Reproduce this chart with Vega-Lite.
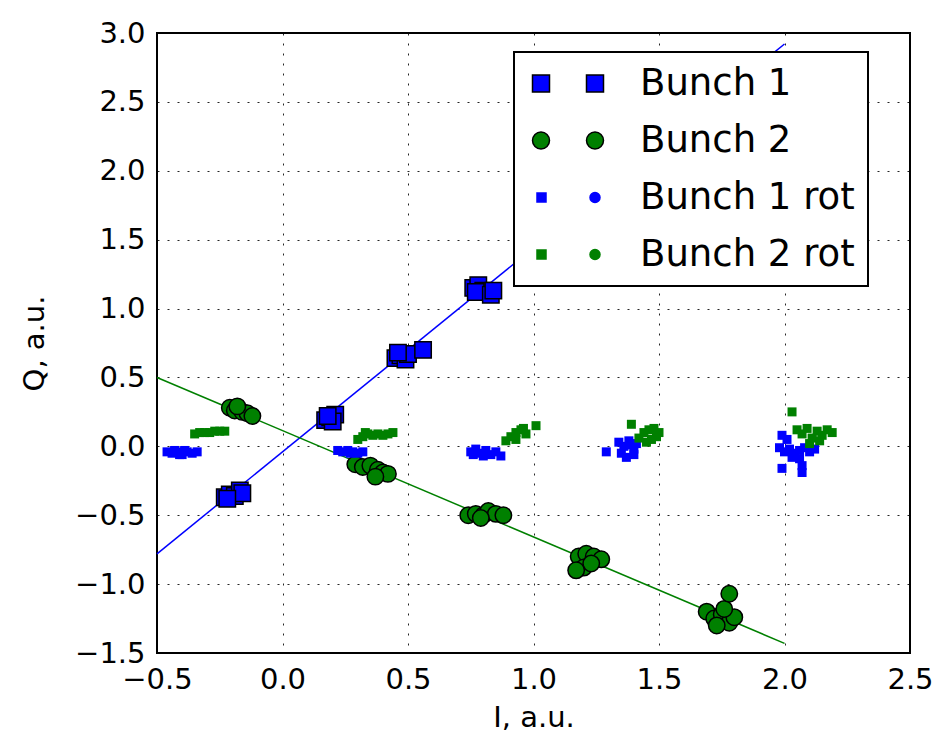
{
  "$schema": "https://vega.github.io/schema/vega-lite/v6.json",
  "width": 753,
  "height": 620,
  "autosize": {"type": "none"},
  "padding": {"left": 157, "top": 33, "right": 24, "bottom": 91},
  "background": "white",
  "config": {
    "font": "DejaVu Sans",
    "view": {"stroke": "black", "strokeWidth": 2},
    "axis": {
      "domain": false,
      "ticks": false,
      "grid": true,
      "gridColor": "black",
      "gridDash": [2, 8],
      "gridWidth": 1,
      "gridOpacity": 0.85,
      "labelFont": "DejaVu Sans",
      "labelFontSize": 29,
      "labelColor": "black",
      "labelPadding": 12,
      "labelFlush": false,
      "titleFont": "DejaVu Sans",
      "titleFontSize": 29,
      "titleFontWeight": "normal",
      "titleColor": "black"
    }
  },
  "datasets": {
    "points": [
      {"series": "Bunch 1", "I": -0.23, "Q": -0.37},
      {"series": "Bunch 1", "I": -0.21, "Q": -0.35},
      {"series": "Bunch 1", "I": -0.19, "Q": -0.36},
      {"series": "Bunch 1", "I": -0.17, "Q": -0.32},
      {"series": "Bunch 1", "I": -0.16, "Q": -0.34},
      {"series": "Bunch 1", "I": -0.22, "Q": -0.38},
      {"series": "Bunch 1", "I": 0.17, "Q": 0.19},
      {"series": "Bunch 1", "I": 0.19, "Q": 0.21},
      {"series": "Bunch 1", "I": 0.21, "Q": 0.23},
      {"series": "Bunch 1", "I": 0.2, "Q": 0.18},
      {"series": "Bunch 1", "I": 0.18, "Q": 0.22},
      {"series": "Bunch 1", "I": 0.45, "Q": 0.64},
      {"series": "Bunch 1", "I": 0.47, "Q": 0.66},
      {"series": "Bunch 1", "I": 0.49, "Q": 0.63},
      {"series": "Bunch 1", "I": 0.5, "Q": 0.67},
      {"series": "Bunch 1", "I": 0.46, "Q": 0.68},
      {"series": "Bunch 1", "I": 0.56, "Q": 0.7},
      {"series": "Bunch 1", "I": 0.76, "Q": 1.15},
      {"series": "Bunch 1", "I": 0.78, "Q": 1.17},
      {"series": "Bunch 1", "I": 0.8, "Q": 1.13},
      {"series": "Bunch 1", "I": 0.77, "Q": 1.12},
      {"series": "Bunch 1", "I": 0.83, "Q": 1.1},
      {"series": "Bunch 1", "I": 0.84, "Q": 1.13},
      {"series": "Bunch 2", "I": -0.21, "Q": 0.28},
      {"series": "Bunch 2", "I": -0.19, "Q": 0.26},
      {"series": "Bunch 2", "I": -0.16, "Q": 0.25},
      {"series": "Bunch 2", "I": -0.14, "Q": 0.24},
      {"series": "Bunch 2", "I": -0.12, "Q": 0.22},
      {"series": "Bunch 2", "I": -0.18, "Q": 0.29},
      {"series": "Bunch 2", "I": 0.29, "Q": -0.13},
      {"series": "Bunch 2", "I": 0.32, "Q": -0.15},
      {"series": "Bunch 2", "I": 0.35, "Q": -0.14},
      {"series": "Bunch 2", "I": 0.38, "Q": -0.17},
      {"series": "Bunch 2", "I": 0.4, "Q": -0.19},
      {"series": "Bunch 2", "I": 0.42, "Q": -0.2},
      {"series": "Bunch 2", "I": 0.37, "Q": -0.22},
      {"series": "Bunch 2", "I": 0.74, "Q": -0.5},
      {"series": "Bunch 2", "I": 0.77, "Q": -0.49},
      {"series": "Bunch 2", "I": 0.8, "Q": -0.5},
      {"series": "Bunch 2", "I": 0.82, "Q": -0.47},
      {"series": "Bunch 2", "I": 0.85, "Q": -0.49},
      {"series": "Bunch 2", "I": 0.88, "Q": -0.5},
      {"series": "Bunch 2", "I": 0.79, "Q": -0.52},
      {"series": "Bunch 2", "I": 1.18, "Q": -0.8},
      {"series": "Bunch 2", "I": 1.21, "Q": -0.78},
      {"series": "Bunch 2", "I": 1.24, "Q": -0.8},
      {"series": "Bunch 2", "I": 1.27, "Q": -0.82},
      {"series": "Bunch 2", "I": 1.2, "Q": -0.88},
      {"series": "Bunch 2", "I": 1.23, "Q": -0.85},
      {"series": "Bunch 2", "I": 1.17, "Q": -0.9},
      {"series": "Bunch 2", "I": 1.69, "Q": -1.2},
      {"series": "Bunch 2", "I": 1.72, "Q": -1.25},
      {"series": "Bunch 2", "I": 1.75, "Q": -1.22},
      {"series": "Bunch 2", "I": 1.78, "Q": -1.28},
      {"series": "Bunch 2", "I": 1.8, "Q": -1.24},
      {"series": "Bunch 2", "I": 1.73, "Q": -1.3},
      {"series": "Bunch 2", "I": 1.76, "Q": -1.18},
      {"series": "Bunch 2", "I": 1.78, "Q": -1.07},
      {"series": "Bunch 1 rot", "I": -0.46, "Q": -0.04},
      {"series": "Bunch 1 rot", "I": -0.44, "Q": -0.05},
      {"series": "Bunch 1 rot", "I": -0.42, "Q": -0.04},
      {"series": "Bunch 1 rot", "I": -0.4, "Q": -0.06},
      {"series": "Bunch 1 rot", "I": -0.38, "Q": -0.04},
      {"series": "Bunch 1 rot", "I": -0.36, "Q": -0.05},
      {"series": "Bunch 1 rot", "I": -0.34, "Q": -0.04},
      {"series": "Bunch 1 rot", "I": -0.43, "Q": -0.03},
      {"series": "Bunch 1 rot", "I": -0.39, "Q": -0.03},
      {"series": "Bunch 1 rot", "I": -0.41, "Q": -0.06},
      {"series": "Bunch 1 rot", "I": 0.22, "Q": -0.03},
      {"series": "Bunch 1 rot", "I": 0.24, "Q": -0.04},
      {"series": "Bunch 1 rot", "I": 0.26, "Q": -0.03},
      {"series": "Bunch 1 rot", "I": 0.28, "Q": -0.04},
      {"series": "Bunch 1 rot", "I": 0.3, "Q": -0.05},
      {"series": "Bunch 1 rot", "I": 0.32, "Q": -0.04},
      {"series": "Bunch 1 rot", "I": 0.27, "Q": -0.05},
      {"series": "Bunch 1 rot", "I": 0.75, "Q": -0.04},
      {"series": "Bunch 1 rot", "I": 0.77, "Q": -0.02},
      {"series": "Bunch 1 rot", "I": 0.79, "Q": -0.05},
      {"series": "Bunch 1 rot", "I": 0.81, "Q": -0.03},
      {"series": "Bunch 1 rot", "I": 0.83, "Q": -0.06},
      {"series": "Bunch 1 rot", "I": 0.85, "Q": -0.04},
      {"series": "Bunch 1 rot", "I": 0.87, "Q": -0.07},
      {"series": "Bunch 1 rot", "I": 0.8, "Q": -0.07},
      {"series": "Bunch 1 rot", "I": 0.76, "Q": -0.06},
      {"series": "Bunch 1 rot", "I": 1.29, "Q": -0.04},
      {"series": "Bunch 1 rot", "I": 1.34, "Q": 0.03},
      {"series": "Bunch 1 rot", "I": 1.36, "Q": 0.0},
      {"series": "Bunch 1 rot", "I": 1.38, "Q": 0.04},
      {"series": "Bunch 1 rot", "I": 1.4, "Q": -0.02},
      {"series": "Bunch 1 rot", "I": 1.35, "Q": -0.05},
      {"series": "Bunch 1 rot", "I": 1.37, "Q": -0.08},
      {"series": "Bunch 1 rot", "I": 1.4, "Q": -0.06},
      {"series": "Bunch 1 rot", "I": 1.39, "Q": 0.01},
      {"series": "Bunch 1 rot", "I": 1.41, "Q": 0.02},
      {"series": "Bunch 1 rot", "I": 1.98, "Q": -0.01},
      {"series": "Bunch 1 rot", "I": 2.0, "Q": -0.04},
      {"series": "Bunch 1 rot", "I": 2.02, "Q": -0.02},
      {"series": "Bunch 1 rot", "I": 2.04, "Q": -0.05},
      {"series": "Bunch 1 rot", "I": 2.06, "Q": -0.03},
      {"series": "Bunch 1 rot", "I": 2.08, "Q": -0.01},
      {"series": "Bunch 1 rot", "I": 2.1, "Q": -0.04},
      {"series": "Bunch 1 rot", "I": 2.12, "Q": -0.02},
      {"series": "Bunch 1 rot", "I": 2.03, "Q": -0.08},
      {"series": "Bunch 1 rot", "I": 2.06, "Q": -0.09},
      {"series": "Bunch 1 rot", "I": 2.07, "Q": -0.14},
      {"series": "Bunch 1 rot", "I": 2.07, "Q": -0.19},
      {"series": "Bunch 1 rot", "I": 1.99, "Q": -0.16},
      {"series": "Bunch 1 rot", "I": 1.99, "Q": 0.08},
      {"series": "Bunch 1 rot", "I": 2.01, "Q": 0.05},
      {"series": "Bunch 2 rot", "I": -0.35, "Q": 0.09},
      {"series": "Bunch 2 rot", "I": -0.33, "Q": 0.1},
      {"series": "Bunch 2 rot", "I": -0.31, "Q": 0.1},
      {"series": "Bunch 2 rot", "I": -0.29, "Q": 0.1},
      {"series": "Bunch 2 rot", "I": -0.27, "Q": 0.11},
      {"series": "Bunch 2 rot", "I": -0.25, "Q": 0.11},
      {"series": "Bunch 2 rot", "I": -0.23, "Q": 0.11},
      {"series": "Bunch 2 rot", "I": 0.3, "Q": 0.05},
      {"series": "Bunch 2 rot", "I": 0.32, "Q": 0.07},
      {"series": "Bunch 2 rot", "I": 0.34, "Q": 0.09},
      {"series": "Bunch 2 rot", "I": 0.36, "Q": 0.08},
      {"series": "Bunch 2 rot", "I": 0.38, "Q": 0.09},
      {"series": "Bunch 2 rot", "I": 0.4, "Q": 0.08},
      {"series": "Bunch 2 rot", "I": 0.42, "Q": 0.09},
      {"series": "Bunch 2 rot", "I": 0.44, "Q": 0.1},
      {"series": "Bunch 2 rot", "I": 0.33, "Q": 0.1},
      {"series": "Bunch 2 rot", "I": 0.89, "Q": 0.04},
      {"series": "Bunch 2 rot", "I": 0.91, "Q": 0.07},
      {"series": "Bunch 2 rot", "I": 0.93, "Q": 0.1},
      {"series": "Bunch 2 rot", "I": 0.95, "Q": 0.12},
      {"series": "Bunch 2 rot", "I": 0.97, "Q": 0.09},
      {"series": "Bunch 2 rot", "I": 0.93, "Q": 0.05},
      {"series": "Bunch 2 rot", "I": 0.96, "Q": 0.13},
      {"series": "Bunch 2 rot", "I": 1.01, "Q": 0.15},
      {"series": "Bunch 2 rot", "I": 1.39, "Q": 0.16},
      {"series": "Bunch 2 rot", "I": 1.42, "Q": 0.06},
      {"series": "Bunch 2 rot", "I": 1.44, "Q": 0.1},
      {"series": "Bunch 2 rot", "I": 1.46, "Q": 0.12},
      {"series": "Bunch 2 rot", "I": 1.48, "Q": 0.13},
      {"series": "Bunch 2 rot", "I": 1.5, "Q": 0.1},
      {"series": "Bunch 2 rot", "I": 1.47, "Q": 0.05},
      {"series": "Bunch 2 rot", "I": 1.45, "Q": 0.03},
      {"series": "Bunch 2 rot", "I": 1.49, "Q": 0.07},
      {"series": "Bunch 2 rot", "I": 2.03, "Q": 0.25},
      {"series": "Bunch 2 rot", "I": 2.05, "Q": 0.12},
      {"series": "Bunch 2 rot", "I": 2.07, "Q": 0.09},
      {"series": "Bunch 2 rot", "I": 2.09, "Q": 0.13},
      {"series": "Bunch 2 rot", "I": 2.11, "Q": 0.06},
      {"series": "Bunch 2 rot", "I": 2.13, "Q": 0.11},
      {"series": "Bunch 2 rot", "I": 2.15, "Q": 0.08},
      {"series": "Bunch 2 rot", "I": 2.17, "Q": 0.12},
      {"series": "Bunch 2 rot", "I": 2.19, "Q": 0.1},
      {"series": "Bunch 2 rot", "I": 2.1, "Q": 0.02},
      {"series": "Bunch 2 rot", "I": 2.14, "Q": 0.04}
    ],
    "blueLine": [{"I": -0.5, "Q": -0.78}, {"I": 2.0, "Q": 2.92}],
    "greenLine": [{"I": -0.5, "Q": 0.5}, {"I": 2.0, "Q": -1.43}]
  },
  "encoding": {
    "x": {
      "field": "I", "type": "quantitative",
      "scale": {"domain": [-0.5, 2.5], "nice": false, "zero": false},
      "axis": {"title": "I, a.u.", "values": [-0.5, 0, 0.5, 1, 1.5, 2, 2.5], "format": ".1f", "labelBaseline": "top", "titlePadding": 9}
    },
    "y": {
      "field": "Q", "type": "quantitative",
      "scale": {"domain": [-1.5, 3.0], "nice": false, "zero": false},
      "axis": {"title": "Q, a.u.", "values": [-1.5, -1, -0.5, 0, 0.5, 1, 1.5, 2, 2.5, 3], "format": ".1f", "titlePadding": 25}
    }
  },
  "layer": [
    {
      "data": {"name": "blueLine"},
      "mark": {"type": "line", "color": "#0000ff", "strokeWidth": 1.5},
      "encoding": {}
    },
    {
      "data": {"name": "greenLine"},
      "mark": {"type": "line", "color": "#008000", "strokeWidth": 1.5},
      "encoding": {}
    },
    {
      "data": {"name": "points"},
      "transform": [{"filter": "datum.series === 'Bunch 1'"}],
      "mark": {"type": "point", "shape": "square", "filled": true, "size": 270, "stroke": "black", "strokeWidth": 1.5, "opacity": 1},
      "encoding": {
        "color": {
          "field": "series", "type": "nominal",
          "scale": {"domain": ["Bunch 1", "Bunch 2", "Bunch 1 rot", "Bunch 2 rot"], "range": ["#0000ff", "#008000", "#0000ff", "#008000"]},
          "legend": {
            "title": null,
            "orient": "none",
            "legendX": 357,
            "legendY": 19,
            "padding": 13,
            "fillColor": "white",
            "strokeColor": "black",
            "cornerRadius": 0,
            "labelFont": "DejaVu Sans",
            "labelFontSize": 37,
            "labelColor": "black",
            "labelLimit": 500,
            "labelOffset": 76,
            "rowPadding": 19,
            "symbolType": {"expr": "datum.value === 'Bunch 1' ? 'M-13,-8.5H4V8.5H-13Z M41,-8.5H58V8.5H41Z' : datum.value === 'Bunch 2' ? 'M4,0A8.5,8.5 0 1 1 -13,0A8.5,8.5 0 1 1 4,0Z M58,0A8.5,8.5 0 1 1 41,0A8.5,8.5 0 1 1 58,0Z' : 'M-8.5,-4.5H0.5V4.5H-8.5Z M54.5,0A5,5 0 1 1 44.5,0A5,5 0 1 1 54.5,0Z'"},
            "encoding": {
              "legend": {
                "strokeWidth": {"value": 2}
              },
              "symbols": {
                "shape": {"value": {"expr": "datum.value === 'Bunch 1' ? 'M-13,-8.5H4V8.5H-13Z M41,-8.5H58V8.5H41Z' : datum.value === 'Bunch 2' ? 'M4,0A8.5,8.5 0 1 1 -13,0A8.5,8.5 0 1 1 4,0Z M58,0A8.5,8.5 0 1 1 41,0A8.5,8.5 0 1 1 58,0Z' : 'M-8.5,-4.5H0.5V4.5H-8.5Z M54.5,0A5,5 0 1 1 44.5,0A5,5 0 1 1 54.5,0Z'"}},
                "size": {"value": 4},
                "fill": {"value": {"expr": "indexof(datum.value, '1') >= 0 ? '#0000ff' : '#008000'"}},
                "stroke": {"value": {"expr": "indexof(datum.value, 'rot') >= 0 ? (indexof(datum.value, '1') >= 0 ? '#0000ff' : '#008000') : 'black'"}},
                "opacity": {"value": 1}
              }
            }
          }
        }
      }
    },
    {
      "data": {"name": "points"},
      "transform": [{"filter": "datum.series === 'Bunch 2'"}],
      "mark": {"type": "point", "shape": "circle", "filled": true, "size": 270, "stroke": "black", "strokeWidth": 1.5, "opacity": 1},
      "encoding": {
        "color": {"field": "series", "type": "nominal"}
      }
    },
    {
      "data": {"name": "points"},
      "transform": [{"filter": "indexof(datum.series, 'rot') >= 0"}],
      "mark": {"type": "point", "shape": "square", "filled": true, "size": 81, "strokeWidth": 0, "opacity": 1},
      "encoding": {
        "color": {"field": "series", "type": "nominal"}
      }
    }
  ]
}
